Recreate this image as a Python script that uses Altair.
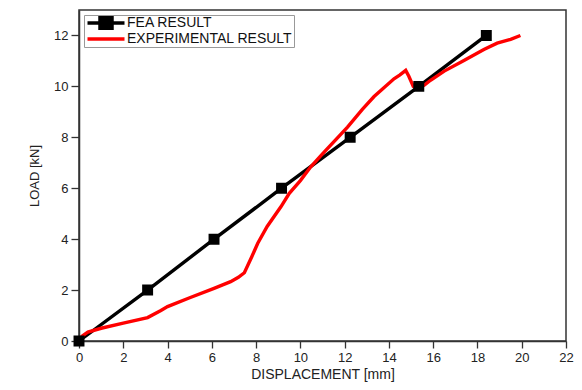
import altair as alt
import pandas as pd

# FEA result
fea_disp = [0.0, 3.1, 6.1, 9.15, 12.25, 15.35, 18.4]
fea_load = [0.0, 2.0, 4.0, 6.0, 8.0, 10.0, 12.0]

# Experimental result
exp_disp = [0.0, 0.15, 0.4, 1.0, 2.0, 3.1, 3.7, 4.0, 5.0, 6.1, 6.85, 7.2, 7.47,
            7.8, 8.07, 8.5, 9.12, 9.5, 10.0, 10.47, 11.0, 12.13, 12.8, 13.33,
            14.23, 14.5, 14.76, 14.9, 15.1, 15.36, 15.6, 15.88, 16.5, 17.39,
            18.29, 18.89, 19.5, 19.94]
exp_load = [0.05, 0.2, 0.35, 0.5, 0.7, 0.92, 1.2, 1.35, 1.7, 2.07, 2.33, 2.5, 2.68,
            3.3, 3.83, 4.5, 5.27, 5.8, 6.3, 6.84, 7.35, 8.4, 9.1, 9.6,
            10.3, 10.45, 10.63, 10.4, 10.0, 9.93, 10.05, 10.24, 10.6, 11.02,
            11.45, 11.7, 11.85, 12.0]

series_names = ["FEA RESULT", "EXPERIMENTAL RESULT"]
series_colors = ["#000000", "#ff0000"]

df = pd.concat([
    pd.DataFrame({"series": series_names[0], "disp": fea_disp, "load": fea_load, "order": range(len(fea_disp))}),
    pd.DataFrame({"series": series_names[1], "disp": exp_disp, "load": exp_load, "order": range(len(exp_disp))}),
])

FONT = "Liberation Sans"

x_enc = alt.X("disp:Q", scale=alt.Scale(domain=[0, 22], nice=False, zero=False),
              axis=alt.Axis(title="DISPLACEMENT [mm]", values=list(range(0, 23)),
                            labelExpr="datum.value % 2 === 0 ? datum.label : ''",
                            tickSize={"condition": {"test": "datum.value % 2 === 0", "value": 7}, "value": 4},
                            grid=False, labelFontSize=13, titleFontSize=14, titleFontWeight="normal",
                            labelFlush=False, labelPadding=3, titlePadding=3))
y_enc = alt.Y("load:Q", scale=alt.Scale(domain=[0, 13], nice=False, zero=False),
              axis=alt.Axis(title="LOAD [kN]", values=list(range(0, 14)),
                            labelExpr="datum.value % 2 === 0 ? datum.label : ''",
                            tickSize={"condition": {"test": "datum.value % 2 === 0", "value": 8}, "value": 5},
                            grid=False, labelFontSize=13, titleFontSize=13, titleFontWeight="normal",
                            labelFlush=False, labelPadding=3, titlePadding=12))

color_scale = alt.Scale(domain=series_names, range=series_colors)
shape_scale = alt.Scale(domain=series_names,
                        range=["M-3.7,0H3.7M-1.2,-1.2H1.2V1.2H-1.2Z", "M-3.7,0H3.7"])

legend = alt.Legend(title=None, orient="top-left", offset=5, padding=1,
                    strokeColor="#999", fillColor="white", labelFontSize=14, labelFont=FONT,
                    labelColor="#111", labelLimit=400, clipHeight=14,
                    symbolSize=100, symbolOffset=14, labelOffset=14, rowPadding=2,
                    symbolStrokeWidth=3.5)

lines = alt.Chart(df).mark_line(strokeWidth=3.4).encode(
    x=x_enc, y=y_enc,
    stroke=alt.Stroke("series:N", scale=color_scale, legend=legend),
    order="order:Q",
    detail="series:N",
)

points = alt.Chart(df).transform_filter(
    alt.datum.series == series_names[0]
).mark_point(filled=True, size=80, opacity=1, strokeWidth=2, shape="square").encode(
    x="disp:Q", y="load:Q",
    fill=alt.Fill("series:N", scale=color_scale, legend=legend),
    stroke=alt.Stroke("series:N", scale=color_scale, legend=legend),
)

# legend-only layer (no rows drawn) carrying the line+marker legend symbols
legend_layer = alt.Chart(df).transform_filter("false").mark_point(filled=True).encode(
    x="disp:Q", y="load:Q",
    fill=alt.Fill("series:N", scale=color_scale, legend=legend),
    stroke=alt.Stroke("series:N", scale=color_scale, legend=legend),
    shape=alt.Shape("series:N", scale=shape_scale, legend=legend),
)

chart = alt.layer(lines, points, legend_layer).properties(
    width=487, height=331,
    autosize=alt.AutoSizeParams(type="none"),
    padding={"left": 71, "top": 2, "right": 8, "bottom": 41},
).configure_view(
    stroke="#333", strokeWidth=1.5
).configure_axis(
    domainColor="#333", domainWidth=1.5, tickColor="#333", tickWidth=1.3,
    labelColor="#222", titleColor="#222", labelFont=FONT, titleFont=FONT,
)

chart.save("out.html", embed_options={"renderer": "svg", "actions": False})
